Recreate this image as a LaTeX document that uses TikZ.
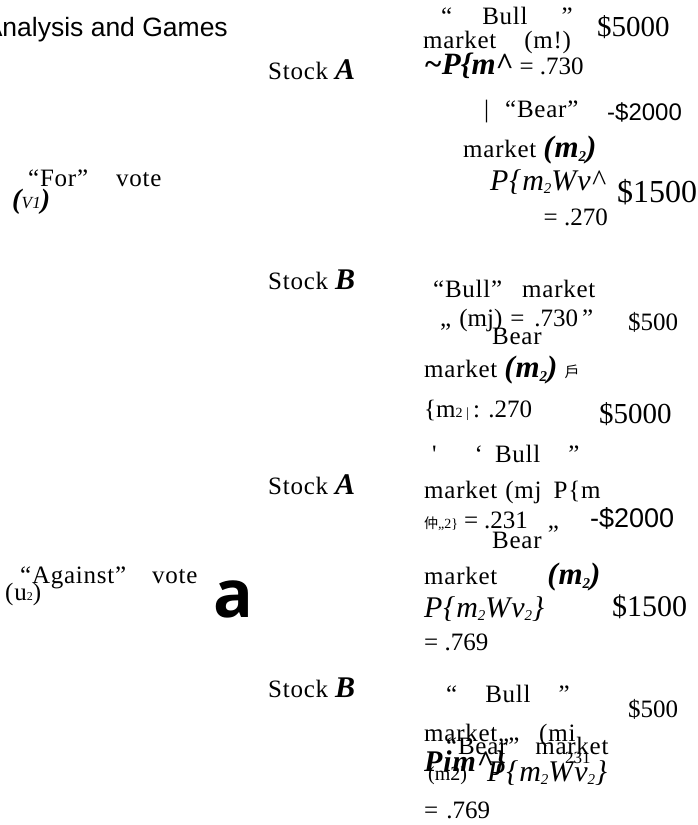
\documentclass[tikz,border=0pt]{standalone}
\usepackage{fontspec}
\setmainfont{Liberation Serif}
\newfontfamily\spc{Liberation Serif}[LetterSpace=3]
\newfontfamily\sansf{Liberation Sans}
\newfontfamily\cjk{Noto Sans CJK SC}
\newfontfamily\bigsans{Open Sans}
\newcommand{\fs}[1]{\fontsize{#1}{#1}\selectfont}
\newcommand{\sbx}[1]{\raisebox{-0.25ex}{\fs{15}#1}}
\newcommand{\bi}[1]{{\bfseries\itshape #1}}
\begin{document}
\begin{tikzpicture}[x=1pt,y=-1pt,
  t/.style={anchor=west,inner sep=0pt,font=\spc\fs{25}},
  num/.style={anchor=west,inner sep=0pt,font=\rmfamily\fs{25}},
  ital/.style={anchor=west,inner sep=0pt,font=\spc\itshape\fs{30}},
  money/.style={anchor=west,inner sep=0pt,font=\rmfamily\fs{#1}},
  smoney/.style={anchor=west,inner sep=0pt,font=\sansf\fs{#1}}]
\useasboundingbox (0,0) rectangle (698,825);
% left column
\node[anchor=east,inner sep=0pt,font=\sansf\fs{26.5}] (title) at (228,30) {Analysis and Games};
\node[t] (for) at (28,178) {“For”\hspace{28pt}vote};
\node[t] (v1) at (12,202) {\bi{\fs{28}(}{\itshape\fs{17}V1}\bi{\fs{28})}};
\node[t] (against) at (20,578) {“Against”\hspace{26pt}vote};
\node[t] (u2) at (5,594) {(u{\fs{12}2})};
\node[anchor=base west,inner sep=0pt,font=\bigsans\bfseries\fs{66}] (biga) at (213,617) {a};
% stock labels
\node[t] (sa1) at (268,70) {Stock \bi{\fs{30}A}};
\node[t] (sb1) at (268,280) {Stock \bi{\fs{30}B}};
\node[t] (sa2) at (268,485) {Stock \bi{\fs{30}A}};
\node[t] (sb2) at (268,688) {Stock \bi{\fs{30}B}};
% branch 1
\node[t] (bull1) at (441,16) {“\hspace{30pt}Bull\hspace{34pt}”};
\node[money=29] (d5000a) at (597,27) {\$5000};
\node[t] (mkt1) at (423,42) {market\hspace{28pt}(m!)};
\node[num] (p1) at (424,66) {\bi{\fs{31}\textasciitilde P\{m\textasciicircum} = .730};
\node[t] (bear1) at (484,112) {|\hspace{16pt}“Bear”};
\node[smoney=24] (m2000a) at (607,112) {-\$2000};
\node[t] (mkt2) at (463,150) {market \bi{\fs{31}(m\sbx{2})}};
\node[ital] (pm2a) at (490,182) {P\{m\sbx{2}Wv\textasciicircum};
\node[money=32] (d1500a) at (617,192) {\$1500};
\node[num,anchor=east] (eq270a) at (608,217) {= .270};
% branch 2
\node[t] (bull2) at (433,289) {“Bull”\hspace{20pt}market};
\node[num] (mj1) at (440,320) {„\hspace{8pt}(mj)\hspace{8pt}=\hspace{10pt}.730};
\node[t] (bear2) at (492,336) {Bear};
\node[num] (q2) at (582,318) {”};
\node[money=25] (d500a) at (628,322) {\$500};
\node[t] (mkt3) at (424,370) {market \bi{\fs{31}(m\sbx{2})} {\cjk\fs{15}戶}};
\node[num] (m270) at (424,410) {\{m{\fs{14}2 |}\,: .270};
\node[money=29] (d5000b) at (599,414) {\$5000};
% branch 3
\node[t] (bull3) at (432,454) {'\hspace{38pt}‘\hspace{12pt}Bull\hspace{28pt}”};
\node[t] (mkt4) at (424,492) {market\hspace{8pt}(mj\hspace{12pt}P\{m};
\node[num] (z231) at (424,522) {{\cjk\fs{14}仲}{\fs{14}„2\}}\hspace{6pt}=\hspace{6pt}.231\hspace{20pt}„};
\node[t] (bear3) at (492,540) {Bear};
\node[smoney=27] (m2000b) at (590,518) {-\$2000};
\node[t] (mkt5) at (424,577) {market\hspace{50pt}\bi{\fs{31}(m\sbx{2})}};
\node[ital] (pm2b) at (424,609) {P\{m\sbx{2}Wv\sbx{2}\}};
\node[money=30] (d1500b) at (612,607) {\$1500};
\node[num] (eq769a) at (424,642) {= .769};
% branch 4
\node[t] (bull4) at (446,694) {“\hspace{28pt}Bull\hspace{28pt}”};
\node[money=25] (d500b) at (628,709) {\$500};
\node[t] (mkt6) at (424,735) {market„\hspace{30pt}(mi};
\node[t] (bear4) at (446,746) {“Bear”\hspace{16pt}market};
\node[ital] (pim) at (424,763) {\bfseries Pim\textasciicircum\}};
\node[num] (n231) at (565,758) {{\fs{17}231}};
\node[num] (m2c) at (428,776) {{\fs{20}(m2)}};
\node[ital] (pm2c) at (487,773) {P\{m\sbx{2}Wv\sbx{2}\}};
\node[num] (eq769b) at (424,810) {=\hspace{8pt}.769};
\end{tikzpicture}
\end{document}
